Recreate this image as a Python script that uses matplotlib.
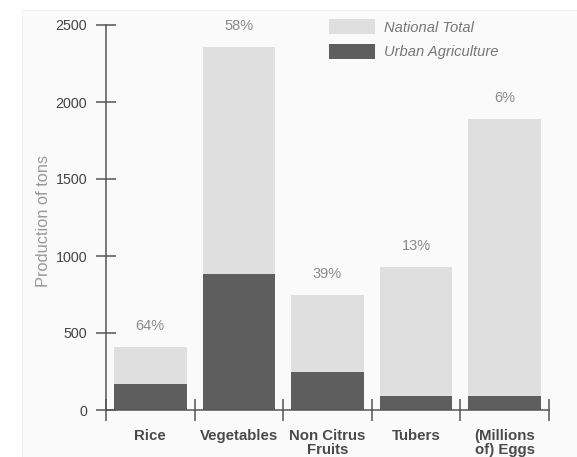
import numpy as np
import matplotlib.pyplot as plt
from matplotlib.patches import Rectangle, Patch

plt.rcParams['font.family'] = ['Liberation Sans', 'DejaVu Sans']

categories = ["Rice", "Vegetables", "Non Citrus\nFruits", "Tubers", "(Millions\nof) Eggs"]
national_total = [410, 2360, 750, 930, 1890]
urban_agriculture = [170, 880, 245, 90, 90]
share_labels = ["64%", "58%", "39%", "13%", "6%"]

W, H = 577, 457
fig = plt.figure(figsize=(W / 100, H / 100), dpi=100, facecolor='white')
# faint off-white panel behind the chart
fig.patches.append(Rectangle((22 / W, 0), 1 - 22 / W, 1 - 10 / H, transform=fig.transFigure,
                             facecolor='#fafafa', edgecolor='#f0f0f0', lw=0.6, zorder=-5))

ax = fig.add_axes([106 / W, 1 - 410 / H, (549 - 106) / W, (410 - 25) / H])
ax.set_facecolor('none')
ax.set_zorder(2)

x = np.arange(len(categories))
light = '#dfdfdf'
dark = '#5e5e5e'
axis_col = '#555555'

ax.bar(x, national_total, width=0.82, color=light, zorder=2)
ax.bar(x, urban_agriculture, width=0.82, color=dark, zorder=3)

for xi, tot, lab in zip(x, national_total, share_labels):
    ax.annotate(lab, (xi, tot), xytext=(0, 15), textcoords='offset points',
                ha='center', va='center', fontsize=10.5, color='#8a8a8a', clip_on=False)

ax.set_xlim(-0.5, len(categories) - 0.5)
ax.set_ylim(0, 2500)
ax.set_yticks([0, 500, 1000, 1500, 2000, 2500])

ax.set_xticks(x)
ax.set_xticklabels(categories, fontsize=10.8, fontweight='bold', color='#4a4a4a', linespacing=1.06)
ax.set_xticks(np.arange(-0.5, len(categories)), minor=True)
ax.tick_params(axis='x', which='major', length=0, pad=13.5)
ax.tick_params(axis='x', which='minor', direction='inout', length=16, width=1.1, color=axis_col)
ax.tick_params(axis='y', direction='inout', length=14.4, width=1.1, color=axis_col,
               labelsize=10.3, labelcolor='#444444', pad=6.3)

for s in ['top', 'right']:
    ax.spines[s].set_visible(False)
for s in ['left', 'bottom']:
    ax.spines[s].set_color(axis_col)
    ax.spines[s].set_linewidth(1.1)
    ax.spines[s].set_zorder(4)

ax.set_ylabel("Production of tons", fontsize=11.8, color='#999999')
ax.yaxis.set_label_coords(-0.125, 0.491)

handles = [Patch(facecolor=light, edgecolor='none'), Patch(facecolor=dark, edgecolor='none')]
leg = fig.legend(handles, ["National Total", "Urban Agriculture"], loc='upper left',
                 bbox_to_anchor=(322 / W, 1 - 12 / H), frameon=False, borderpad=0,
                 handlelength=3.1, handleheight=1.2, handletextpad=0.6, labelspacing=0.6,
                 prop={'size': 10.6, 'style': 'italic'})
for t in leg.get_texts():
    t.set_color('#777777')

fig.savefig("out.png", dpi=100, facecolor=fig.get_facecolor())
